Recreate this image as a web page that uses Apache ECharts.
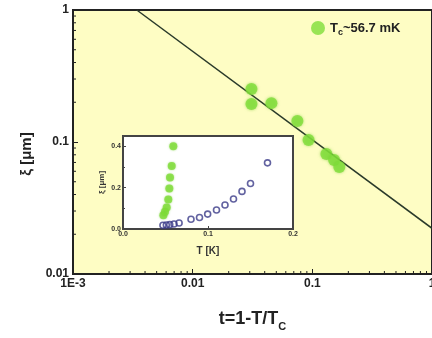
<!DOCTYPE html>
<html>
<head>
<meta charset="utf-8">
<script src="https://cdn.jsdelivr.net/npm/echarts@6/dist/echarts.min.js"></script>
<style>
  html, body { margin: 0; padding: 0; background: #fff; }
  #main { width: 432px; height: 338px; }
</style>
</head>
<body>
<div id="main"></div>
<script>
// main panel: xi vs reduced temperature t
var tVals = [0.031, 0.031, 0.0455, 0.075, 0.093, 0.131, 0.152, 0.168];
var xiVals = [0.252, 0.194, 0.197, 0.144, 0.1035, 0.081, 0.073, 0.0647];
// fitted power law, end points
var fitT = [0.00341, 1];
var fitXi = [1, 0.0222];
// inset: xi vs T
var insetGreenT = [0.0475, 0.0494, 0.0514, 0.0533, 0.0545, 0.0553, 0.0573, 0.0592];
var insetGreenXi = [0.067, 0.083, 0.104, 0.143, 0.196, 0.249, 0.305, 0.401];
var insetBlueT = [0.047, 0.051, 0.055, 0.060, 0.066, 0.080, 0.090, 0.0996, 0.110, 0.120, 0.130, 0.140, 0.150, 0.170];
var insetBlueXi = [0.018, 0.019, 0.021, 0.024, 0.029, 0.047, 0.056, 0.072, 0.092, 0.116, 0.145, 0.182, 0.220, 0.320];
var xTickLabels = { '0.001': '1E-3', '0.01': '0.01', '0.1': '0.1', '1': '1' };
var yTickLabels = { '0.01': '0.01', '0.1': '0.1', '1': '1' };
var insetYLabels = { '0': '0.0', '0.2': '0.2', '0.4': '0.4' };

var chart = echarts.init(document.getElementById('main'));
var font = 'Liberation Sans, Arial, sans-serif';

function pairs(a, b) {
    return a.map(function(v, i) { return [v, b[i]]; });
}

function lbl(v, map) {
    var k = String(+v.toPrecision(3));
    return map[k] !== undefined ? map[k] : '';
}

var option = {
    backgroundColor: '#fff',
    animation: false,
    legend: {
        left: 306, top: 16,
        itemWidth: 14, itemHeight: 14,
        icon: 'circle',
        data: ['main'],
        formatter: function() { return '{a|T}{b|c}{a|~56.7 mK}'; },
        textStyle: {
            rich: {
                a: { fontFamily: font, fontWeight: 'bold', fontSize: 13, color: '#222' },
                b: { fontFamily: font, fontWeight: 'bold', fontSize: 9, color: '#222', padding: [10, 0, 0, 0] }
            }
        }
    },
    grid: [
        { left: 73, top: 10, right: 0, bottom: 64, show: true, backgroundColor: '#fefdc4', borderColor: '#222', borderWidth: 2, outerBoundsMode: 'none', containLabel: false },
        { left: 123, top: 136, width: 170, height: 93, show: true, backgroundColor: '#fff', borderColor: '#444', borderWidth: 2, outerBoundsMode: 'none', containLabel: false }
    ],
    xAxis: [{
        gridIndex: 0, type: 'log', min: 0.001, max: 1, logBase: 10,
        name: '{a|t=1-T/T}{b|C}', nameLocation: 'middle', nameGap: 33,
        nameTextStyle: { rich: {
            a: { fontFamily: font, fontWeight: 'bold', fontSize: 18, color: '#222' },
            b: { fontFamily: font, fontWeight: 'bold', fontSize: 11, color: '#222', padding: [14, 0, 0, 0] }
        } },
        axisLine: { lineStyle: { color: '#222', width: 2 } },
        axisTick: { inside: true, length: 5, lineStyle: { color: '#222' } },
        axisLabel: { fontFamily: font, fontWeight: 'bold', fontSize: 12, color: '#222', margin: 4,
            formatter: function(v) { return lbl(v, xTickLabels); } },
        splitLine: { show: false }
    }, {
        gridIndex: 1, type: 'value', min: 0, max: 0.2, interval: 0.1,
        name: 'T [K]', nameLocation: 'middle', nameGap: 17,
        nameTextStyle: { fontFamily: font, fontWeight: 'bold', fontSize: 10, color: '#333' },
        axisLine: { lineStyle: { color: '#444', width: 2 } },
        axisTick: { inside: true, length: 3, lineStyle: { color: '#444' } },
        axisLabel: { fontFamily: font, fontWeight: 'bold', fontSize: 7, color: '#333', margin: 2,
            formatter: function(v) { return v.toFixed(1); } },
        splitLine: { show: false }
    }],
    yAxis: [{
        gridIndex: 0, type: 'log', min: 0.01, max: 1, logBase: 10,
        name: 'ξ [μm]', nameLocation: 'middle', nameGap: 38, nameRotate: 90,
        nameTextStyle: { fontFamily: font, fontWeight: 'bold', fontSize: 15, color: '#222', padding: [0, 0, 0, -24] },
        axisLine: { lineStyle: { color: '#222', width: 2 } },
        axisTick: { inside: true, length: 5, lineStyle: { color: '#222' } },
        axisLabel: { fontFamily: font, fontWeight: 'bold', fontSize: 12, color: '#222', margin: 4,
            formatter: function(v) { return lbl(v, yTickLabels); } },
        splitLine: { show: false }
    }, {
        gridIndex: 1, type: 'value', min: 0, max: 0.45, interval: 0.2,
        name: 'ξ [μm]', nameLocation: 'middle', nameGap: 17, nameRotate: 90,
        nameTextStyle: { fontFamily: font, fontWeight: 'bold', fontSize: 8, color: '#333' },
        axisLine: { lineStyle: { color: '#444', width: 2 } },
        axisTick: { inside: true, length: 3, lineStyle: { color: '#444' } },
        minorTick: { show: true, splitNumber: 2, length: 2, lineStyle: { color: '#444' } },
        axisLabel: { fontFamily: font, fontWeight: 'bold', fontSize: 7, color: '#333', margin: 2,
            showMaxLabel: false,
            formatter: function(v) { return lbl(v, insetYLabels); } },
        splitLine: { show: false }
    }],
    series: [{
        name: 'fit', type: 'line', xAxisIndex: 0, yAxisIndex: 0,
        data: pairs(fitT, fitXi), showSymbol: false, symbol: 'none',
        lineStyle: { color: '#2a3a2a', width: 1.5 }, z: 2
    }, {
        name: 'main', type: 'scatter', xAxisIndex: 0, yAxisIndex: 0,
        data: pairs(tVals, xiVals), symbol: 'circle', symbolSize: 12,
        itemStyle: { color: '#80dd3a', shadowBlur: 3, shadowColor: 'rgba(110,200,40,0.7)' }, z: 3
    }, {
        name: 'insetGreen', type: 'scatter', xAxisIndex: 1, yAxisIndex: 1,
        data: pairs(insetGreenT, insetGreenXi), symbol: 'circle', symbolSize: 8,
        itemStyle: { color: '#80dd3a', shadowBlur: 2, shadowColor: 'rgba(110,200,40,0.7)' }
    }, {
        name: 'insetBlue', type: 'scatter', xAxisIndex: 1, yAxisIndex: 1,
        data: pairs(insetBlueT, insetBlueXi), symbol: 'circle', symbolSize: 6,
        itemStyle: { color: 'rgba(255,255,255,0)', borderColor: '#3b3b88', borderWidth: 1.6 }
    }]
};
chart.setOption(option);

// log minor ticks, placed through the axis scales
function minorTicks() {
    var els = [];
    var decades = [0.001, 0.01, 0.1];
    decades.forEach(function(d) {
        for (var m = 2; m <= 9; m++) {
            var v = d * m;
            var px = chart.convertToPixel({ xAxisIndex: 0 }, v);
            var base = chart.convertToPixel({ yAxisIndex: 0 }, 0.01);
            els.push({ type: 'line', shape: { x1: px, y1: base, x2: px, y2: base - 3 },
                style: { stroke: '#222', lineWidth: 1 }, z: 10 });
            if (v >= 0.01) {
                var py = chart.convertToPixel({ yAxisIndex: 0 }, v);
                var left = chart.convertToPixel({ xAxisIndex: 0 }, 0.001);
                els.push({ type: 'line', shape: { x1: left, y1: py, x2: left + 3, y2: py },
                    style: { stroke: '#222', lineWidth: 1 }, z: 10 });
            }
        }
    });
    chart.setOption({ graphic: els });
}
minorTicks();
</script>
</body>
</html>
